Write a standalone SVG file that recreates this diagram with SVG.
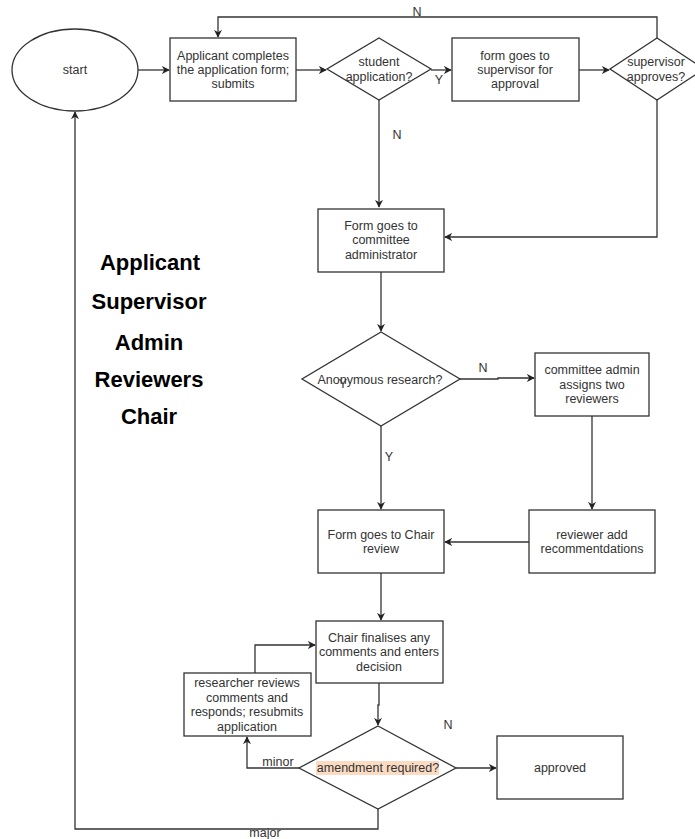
<svg xmlns="http://www.w3.org/2000/svg" width="695" height="839" viewBox="0 0 695 839">
<defs>
<marker id="arr" viewBox="0 0 10 10" refX="9" refY="5" markerWidth="8" markerHeight="8" markerUnits="userSpaceOnUse" orient="auto">
<path d="M0,0 L10,5 L0,10 L3,5 Z" fill="#222"/>
</marker>
<style>
.shape{fill:#fff;stroke:#333;stroke-width:1.3}
.t{font-family:"Liberation Sans",Arial,sans-serif;font-size:12.5px;fill:#333;text-anchor:middle}
.lbl{font-family:"Liberation Sans",Arial,sans-serif;font-size:12.5px;fill:#333;text-anchor:middle}
.leg{font-family:"Liberation Sans",Arial,sans-serif;font-size:22px;font-weight:bold;fill:#000;text-anchor:middle}
.c{fill:none;stroke:#333;stroke-width:1.3;marker-end:url(#arr)}
</style>
</defs>
<rect width="695" height="839" fill="#fff"/>

<g id="connectors">
<path class="c" d="M138,70 H169"/>
<path class="c" d="M296,70 H326"/>
<path class="c" d="M431,70 H451"/>
<path class="c" d="M579,70 H609"/>
<path class="c" d="M657,38 V17 H218 V37"/>
<path class="c" d="M379,100 V207"/>
<path class="c" d="M657,100 V237 H445"/>
<path class="c" d="M381,272 V331"/>
<path class="c" d="M460,379 H498 V378 H534"/>
<path class="c" d="M381,426 V509"/>
<path class="c" d="M592,416 V509"/>
<path class="c" d="M529,542 H445"/>
<path class="c" d="M381,573 V620"/>
<path class="c" d="M379,683 V705 H378 V725"/>
<path class="c" d="M255,673 V645 H315"/>
<path class="c" d="M299,768 H247 V737"/>
<path class="c" d="M456,768 H496"/>
<path class="c" d="M378,809 V829 H75 V112"/>
</g>

<g id="labels">
<text class="lbl" x="417" y="16">N</text>
<text class="lbl" x="439" y="84">Y</text>
<text class="lbl" x="397" y="139">N</text>
<text class="lbl" x="483" y="372">N</text>
<text class="lbl" x="389" y="461">Y</text>
<text class="lbl" x="448" y="729">N</text>
<text class="lbl" x="278" y="766">minor</text>
<text class="lbl" x="265" y="837">major</text>
</g>

<g id="start">
<ellipse class="shape" cx="75" cy="70" rx="63" ry="41"/>
<text class="t" x="75" y="74">start</text>
</g>

<g id="applicant">
<rect class="shape" x="170" y="38" width="126" height="63"/>
<text class="t" x="233" y="60">Applicant completes</text>
<text class="t" x="233" y="74">the application form;</text>
<text class="t" x="233" y="88">submits</text>
</g>

<g id="student">
<polygon class="shape" points="379,38 431,69 379,100 327,69"/>
<text class="t" x="379" y="66">student</text>
<text class="t" x="379" y="81">application?</text>
</g>

<g id="supervisor-form">
<rect class="shape" x="452" y="38" width="127" height="63"/>
<text class="t" x="515" y="60">form goes to</text>
<text class="t" x="515" y="74">supervisor for</text>
<text class="t" x="515" y="88">approval</text>
</g>

<g id="supervisor-approves">
<polygon class="shape" points="657,38 704,69 657,100 610,69"/>
<text class="t" x="656" y="66">supervisor</text>
<text class="t" x="656" y="81">approves?</text>
</g>

<g id="committee-admin">
<rect class="shape" x="318" y="209" width="126" height="63"/>
<text class="t" x="381" y="230">Form goes to</text>
<text class="t" x="381" y="244">committee</text>
<text class="t" x="381" y="259">administrator</text>
</g>

<g id="anonymous">
<polygon class="shape" points="381,332 460,379 381,426 302,379"/>
<text class="t" x="380" y="384">Anonymous research?</text>
<text class="lbl" x="343" y="388">Y</text>
</g>

<g id="assigns">
<rect class="shape" x="535" y="353" width="114" height="63"/>
<text class="t" x="592" y="374">committee admin</text>
<text class="t" x="592" y="389">assigns two</text>
<text class="t" x="592" y="403">reviewers</text>
</g>

<g id="chair-review">
<rect class="shape" x="318" y="510" width="126" height="63"/>
<text class="t" x="381" y="539">Form goes to Chair</text>
<text class="t" x="381" y="553">review</text>
</g>

<g id="reviewer">
<rect class="shape" x="529" y="510" width="126" height="63"/>
<text class="t" x="592" y="539">reviewer add</text>
<text class="t" x="592" y="553">recommentdations</text>
</g>

<g id="chair-finalises">
<rect class="shape" x="316" y="621" width="127" height="62"/>
<text class="t" x="379" y="642">Chair finalises any</text>
<text class="t" x="379" y="656">comments and enters</text>
<text class="t" x="379" y="671">decision</text>
</g>

<g id="researcher">
<rect class="shape" x="184" y="673" width="127" height="63"/>
<text class="t" x="247" y="687">researcher reviews</text>
<text class="t" x="247" y="702">comments and</text>
<text class="t" x="247" y="716">responds; resubmits</text>
<text class="t" x="247" y="731">application</text>
</g>

<g id="amendment">
<polygon class="shape" points="378,726 456,768 378,809 299,768"/>
<rect x="316" y="761" width="123" height="14" fill="#fbdcc3"/>
<text class="t" x="378" y="772">amendment required?</text>
</g>

<g id="approved">
<rect class="shape" x="497" y="736" width="126" height="63"/>
<text class="t" x="560" y="772">approved</text>
</g>

<g id="legend">
<text class="leg" x="150" y="270">Applicant</text>
<text class="leg" x="149" y="309">Supervisor</text>
<text class="leg" x="149" y="350">Admin</text>
<text class="leg" x="149" y="387">Reviewers</text>
<text class="leg" x="149" y="424">Chair</text>
</g>
</svg>
